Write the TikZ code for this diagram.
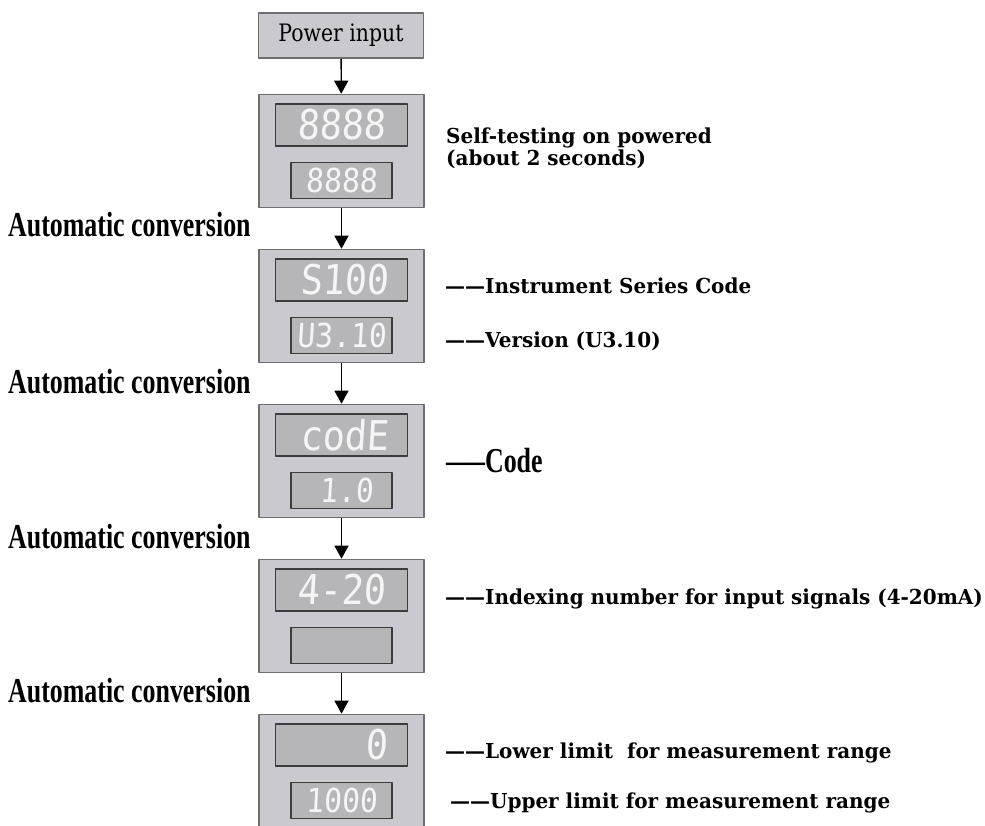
\documentclass[tikz,border=0pt]{standalone}
\usepackage{fontspec}
\usetikzlibrary{arrows.meta,positioning}
\newfontfamily\lblfont[FakeStretch=0.97]{DejaVu Serif}
\newfontfamily\tallfont[FakeStretch=0.74]{Liberation Serif}
\newfontfamily\pwrfont[FakeStretch=0.85]{DejaVu Serif}
\newfontfamily\segfont[FakeStretch=0.9,FakeSlant=0.06]{DejaVu Sans Mono}
\definecolor{panelfill}{RGB}{201,201,207}
\definecolor{panelline}{RGB}{110,110,110}
\definecolor{dispfill}{RGB}{182,182,184}
\definecolor{displine}{RGB}{60,60,60}
\definecolor{segcol}{RGB}{245,245,245}
\tikzset{
  panel/.style={draw=panelline,fill=panelfill,line width=1.6pt,minimum width=165pt,minimum height=113pt,inner sep=0pt},
  bigdisp/.style={draw=displine,fill=dispfill,line width=1.4pt,minimum width=132pt,minimum height=42pt,inner sep=0pt},
  smalldisp/.style={draw=displine,fill=dispfill,line width=1.4pt,minimum width=101pt,minimum height=36pt,inner sep=0pt},
  bigdig/.style={text=segcol,font=\segfont\fontsize{41}{41}\selectfont,inner sep=0pt},
  smalldig/.style={text=segcol,font=\segfont\fontsize{33}{33}\selectfont,inner sep=0pt},
  note/.style={anchor=base west,inner sep=0pt,font=\lblfont\bfseries\fontsize{20.6}{20.6}\selectfont},
  tallnote/.style={anchor=base west,inner sep=0pt,font=\tallfont\bfseries\fontsize{35}{35}\selectfont},
}
\begin{document}
\begin{tikzpicture}[x=1pt,y=-1pt,>={Triangle[width=14pt,length=13pt]},line join=bevel]
  \useasboundingbox (0,0) rectangle (985,825);
  \clip (0,0) rectangle (985,825);
  \fill[white] (0,0) rectangle (985,825);
%%
  % Start box
  \node[draw=panelline,fill=panelfill,line width=1.6pt,minimum width=165pt,minimum height=45pt,inner sep=0pt,
        font=\pwrfont\fontsize{24}{24}\selectfont] (pwr) at (341,35.5) {Power input};
  % Panels
  \node[panel] (p1) at (341.5,151) {};
  \node[panel,below=40.4pt of p1] (p2) {};
  \node[panel,below=40.4pt of p2] (p3) {};
  \node[panel,below=40.4pt of p3] (p4) {};
  \node[panel,below=40.4pt of p4] (p5) {};
  % Displays
  \foreach \p in {p1,p2,p3,p4,p5} {
    \node[bigdisp,below=9.5pt of \p.north] (\p a) {};
    \node[smalldisp,below=15pt of \p a] (\p b) {};
  }
  % Digits
  \node[bigdig] at (p1a) {8888};
  \node[smalldig] at (p1b) {8888};
  \node[bigdig,xshift=3pt] at (p2a) {S100};
  \node[smalldig] at (p2b) {U3.10};
  \node[bigdig,xshift=3pt] at (p3a) {codE};
  \node[smalldig,xshift=5pt] at (p3b) {1.0};
  \node[bigdig] at (p4a) {4-20};
  \node[bigdig,anchor=east] at ([xshift=-20pt]p5a.east) {0};
  \node[smalldig] at (p5b) {1000};
  % Edges
  \draw[->,line width=1.3pt] (pwr) -- (p1);
  \draw[->,line width=1.3pt] (p1) -- (p2);
  \draw[->,line width=1.3pt] (p2) -- (p3);
  \draw[->,line width=1.3pt] (p3) -- (p4);
  \draw[->,line width=1.3pt] (p4) -- (p5);
  % Left labels
  \node[tallnote] (conv1) at (8,236) {Automatic conversion};
  \node[tallnote] (conv2) at (8,393) {Automatic conversion};
  \node[tallnote] (conv3) at (8,548) {Automatic conversion};
  \node[tallnote] (conv4) at (8,702) {Automatic conversion};
  % Right labels
  \node[note] (self1) at (446,143) {Self-testing on powered};
  \node[note] (self2) at (446,165) {(about 2 seconds)};
  \node[note] (series) at (445,293) {——Instrument Series Code};
  \node[note] (version) at (445,347) {——Version (U3.10)};
  \node[tallnote] (code) at (446,472) {—–Code};
  \node[note] (index) at (445,604) {——Indexing number for input signals (4-20mA)};
  \node[note] (lower) at (445,758) {——Lower limit\ \ for measurement range};
  \node[note] (upper) at (450,808) {——Upper limit for measurement range};
%
\end{tikzpicture}
\end{document}
